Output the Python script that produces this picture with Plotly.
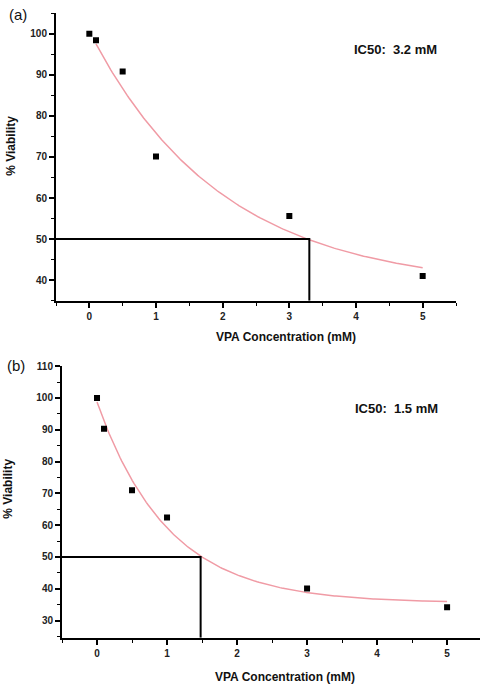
import numpy as np
import plotly.graph_objects as go

# ---- Data (a) ----
conc_a = [0, 0.1, 0.5, 1, 3, 5]
viab_a = [100, 98.4, 90.8, 70.1, 55.6, 41.0]
fit_a = dict(A=38.0, B=62.6, t=1.98, x0=0.1, x1=5.0)   # exponential decay fit
ic50_a_x = 3.3
ic50_label_a = "IC50:  3.2 mM"

# ---- Data (b) ----
conc_b = [0, 0.1, 0.5, 1, 3, 5]
viab_b = [100, 90.3, 71.0, 62.4, 40.1, 34.2]
fit_b = dict(A=35.5, B=63.2, t=1.018, x0=0.0, x1=5.0)
ic50_b_x = 1.48
ic50_label_b = "IC50:  1.5 mM"

ic50_y = 50
xticks = [0, 1, 2, 3, 4, 5]
yticks_a = [40, 50, 60, 70, 80, 90, 100]
yticks_b = [30, 40, 50, 60, 70, 80, 90, 100, 110]

FONT = "Liberation Sans, Arial, sans-serif"

def fit_curve(p):
    xs = np.linspace(p["x0"], p["x1"], 200)
    return xs, p["A"] + p["B"] * np.exp(-xs / p["t"])

fig = go.Figure()

ya_min, ya_max = 35, 105
yb_min, yb_max = 24.6, 110

for xs_, ys_, fp, icx, ymin, xa, ya in [
    (conc_a, viab_a, fit_a, ic50_a_x, ya_min, "x", "y"),
    (conc_b, viab_b, fit_b, ic50_b_x, yb_min, "x2", "y2"),
]:
    cx, cy = fit_curve(fp)
    fig.add_trace(go.Scatter(x=cx, y=cy, mode="lines",
                             line=dict(color="rgb(240,155,165)", width=1.5),
                             xaxis=xa, yaxis=ya, showlegend=False, hoverinfo="skip"))
    fig.add_trace(go.Scatter(x=[-0.5, icx, icx], y=[ic50_y, ic50_y, ymin], mode="lines",
                             line=dict(color="black", width=2),
                             xaxis=xa, yaxis=ya, showlegend=False, cliponaxis=False))
    fig.add_trace(go.Scatter(x=xs_, y=ys_, mode="markers",
                             marker=dict(symbol="square", size=6, color="black"),
                             xaxis=xa, yaxis=ya, showlegend=False))

axis_common = dict(showline=True, linecolor="black", linewidth=2, ticks="outside",
                   ticklen=5, tickwidth=1.5, tickcolor="black", showgrid=False,
                   zeroline=False, mirror=False,
                   tickfont=dict(family=FONT, size=10, color="#222", weight="bold"))

fig.update_layout(
    width=480, height=686,
    margin=dict(l=0, r=0, t=0, b=0),
    paper_bgcolor="white", plot_bgcolor="white",
    xaxis=dict(domain=[56/480, 456/480], range=[-0.5, 5.5], tickvals=xticks,
               minor=dict(dtick=0.5, tick0=0, ticks="outside", ticklen=3, tickwidth=1, tickcolor="black"),
               anchor="y", **axis_common),
    yaxis=dict(domain=[1-297.3/686, 1-7.3/686], range=[ya_min, ya_max], tickvals=yticks_a,
               minor=dict(dtick=5, tick0=0, ticks="outside", ticklen=3, tickwidth=1, tickcolor="black"),
               anchor="x", **axis_common),
    xaxis2=dict(domain=[62/480, 1.0], range=[-0.5, 5.47], tickvals=xticks,
                minor=dict(dtick=0.5, tick0=0, ticks="outside", ticklen=3, tickwidth=1, tickcolor="black"),
                anchor="y2", **axis_common),
    yaxis2=dict(domain=[1-637.3/686, 1-363.3/686], range=[yb_min, yb_max], tickvals=yticks_b,
                minor=dict(dtick=5, tick0=0, ticks="outside", ticklen=3, tickwidth=1, tickcolor="black"),
                anchor="x2", **axis_common),
)

def px(xp, yp):
    return dict(x=xp/480, y=1-yp/686, xref="paper", yref="paper", showarrow=False,
                xanchor="center", yanchor="middle")

ann = []
bold = dict(family=FONT, size=12, color="#111", weight="bold")
ann.append(dict(text="(a)", font=dict(family=FONT, size=15, color="#111"), **px(18, 9)))
ann.append(dict(text="(b)", font=dict(family=FONT, size=15, color="#111"), **px(16, 363)))
ann.append(dict(text=ic50_label_a, font=dict(family=FONT, size=13, color="#111", weight="bold"), **px(395, 44)))
ann.append(dict(text=ic50_label_b, font=dict(family=FONT, size=13, color="#111", weight="bold"), **px(396, 406)))
ann.append(dict(text="VPA Concentration (mM)", font=bold, **px(286, 334)))
ann.append(dict(text="VPA Concentration (mM)", font=bold, **px(285, 677)))
ann.append(dict(text="% Viability", font=bold, textangle=-90, **px(11, 141)))
ann.append(dict(text="% Viability", font=bold, textangle=-90, **px(8, 487)))
fig.update_layout(annotations=ann)

fig.write_html("out.html", config={"displayModeBar": False},
               post_script="document.body.style.margin='0';document.body.style.padding='0';")
